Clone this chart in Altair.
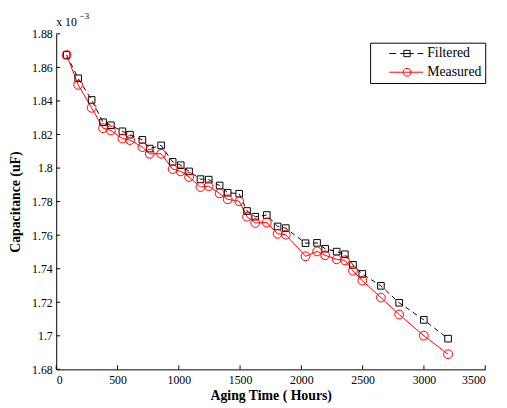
import altair as alt
import pandas as pd

hours = [85, 179, 289, 382, 446, 540, 602, 703, 763, 856, 950, 1016, 1084, 1177, 1244,
         1333, 1399, 1493, 1557, 1624, 1718, 1806, 1873, 2034, 2128, 2194, 2288, 2355,
         2421, 2497, 2649, 2798, 2999, 3197]
measured = [1.8674, 1.8496, 1.8359, 1.8238, 1.8224, 1.8176, 1.8167, 1.8125, 1.8085, 1.8085,
            1.7994, 1.7980, 1.7947, 1.7887, 1.7892, 1.7849, 1.7814, 1.7802, 1.7710, 1.7673,
            1.7675, 1.7608, 1.7603, 1.7474, 1.7503, 1.7480, 1.7456, 1.7450, 1.7388, 1.7329,
            1.7228, 1.7127, 1.7001, 1.6890]
filtered = [1.8674, 1.8535, 1.8406, 1.8273, 1.8255, 1.8219, 1.8199, 1.8168, 1.8116, 1.8135,
            1.8037, 1.8017, 1.7980, 1.7934, 1.7931, 1.7896, 1.7853, 1.7847, 1.7744, 1.7710,
            1.7720, 1.7652, 1.7642, 1.7552, 1.7554, 1.7519, 1.7502, 1.7486, 1.7423, 1.7369,
            1.7298, 1.7197, 1.7095, 1.6983]
series = ["Filtered", "Measured"]
x_ticks = [0, 500, 1000, 1500, 2000, 2500, 3000, 3500]
y_ticks = [1.68, 1.70, 1.72, 1.74, 1.76, 1.78, 1.80, 1.82, 1.84, 1.86, 1.88]

W, H = 436, 341
FONT = "Liberation Serif"

df_f = pd.DataFrame({"hours": hours, "cap": filtered})
df_m = pd.DataFrame({"hours": hours, "cap": measured})

xs = alt.Scale(domain=[0, 3500], nice=False, zero=False)
ys = alt.Scale(domain=[1.68, 1.88], nice=False, zero=False)

x_axis = alt.Axis(
    values=x_ticks, format="d", labelOverlap=False, title="Aging Time ( Hours)",
    tickSize=0, labelPadding=5,
    labelFont=FONT, labelFontSize=12, labelColor="black",
    titleFont=FONT, titleFontSize=14, titleFontWeight="bold", titleColor="black",
    titlePadding=4, domainColor="black", grid=False)
y_axis = alt.Axis(
    values=y_ticks, format=".3~g", labelOverlap=False, title="Capacitance (uF)",
    tickSize=0, labelPadding=4,
    labelFont=FONT, labelFontSize=12, labelColor="black",
    titleFont=FONT, titleFontSize=14, titleFontWeight="bold", titleColor="black",
    titlePadding=9, domainColor="black", grid=False)

def X(f):
    return alt.X(f, type="quantitative", scale=xs, axis=x_axis)

def Y(f):
    return alt.Y(f, type="quantitative", scale=ys, axis=y_axis)

line_f = alt.Chart(df_f).mark_line(color="black", strokeWidth=1, strokeDash=[5, 4]).encode(
    x=X("hours"), y=Y("cap"))
pts_f = alt.Chart(df_f).mark_point(shape="square", filled=False, color="black",
                                   size=45, strokeWidth=1, opacity=1).encode(
    x=X("hours"), y=Y("cap"))
line_m = alt.Chart(df_m).mark_line(color="red", strokeWidth=1).encode(
    x=X("hours"), y=Y("cap"))
pts_m = alt.Chart(df_m).mark_point(shape="circle", filled=False, color="red",
                                   size=80, strokeWidth=1, opacity=1).encode(
    x=X("hours"), y=Y("cap"))

# inward tick marks placed through the scales
xt = alt.Chart(pd.DataFrame({"t": x_ticks})).mark_rule(color="black", strokeWidth=1).encode(
    x=X("t"), y=alt.value(H), y2=alt.value(H - 4))
yt = alt.Chart(pd.DataFrame({"t": y_ticks})).mark_rule(color="black", strokeWidth=1).encode(
    y=Y("t"), x=alt.value(0), x2=alt.value(4))

# legend symbols: line + marker drawn as custom paths (unit = 15 px)
path_f = ("M-1.2,0H-0.75M-0.453,0H0.453M0.72,0H1.1"
          "M-0.213,-0.213H0.213V0.213H-0.213Z")
r, k = 0.2667, 0.1473
path_m = ("M-1.2,0H1.1M{r},0C{r},{k} {k},{r} 0,{r}C-{k},{r} -{r},{k} -{r},0"
          "C-{r},-{k} -{k},-{r} 0,-{r}C{k},-{r} {r},-{k} {r},0Z").format(r=r, k=k)

leg = alt.Chart(pd.DataFrame({"series": series})).mark_point(
    filled=False, clip=True, strokeWidth=1, opacity=1).encode(
    x=alt.value(-200), y=alt.value(-200), size=alt.value(900),
    color=alt.Color("series:N", scale=alt.Scale(domain=series, range=["black", "red"]),
                    legend=alt.Legend(title=None)),
    shape=alt.Shape("series:N", scale=alt.Scale(domain=series, range=[path_f, path_m]),
                    legend=alt.Legend(title=None)),
)

t1 = alt.Chart(pd.DataFrame({"a": [0]})).mark_text(
    text="x 10", font=FONT, fontSize=12, align="left", baseline="middle", color="black").encode(
    x=alt.value(0), y=alt.value(-12))
t2 = alt.Chart(pd.DataFrame({"a": [0]})).mark_text(
    text="\u22123", font=FONT, fontSize=9, align="left", baseline="middle", color="black").encode(
    x=alt.value(24), y=alt.value(-18))

chart = alt.layer(line_f, line_m, pts_f, pts_m, xt, yt, leg, t1, t2).resolve_scale(
    shape="independent", color="independent").properties(
    width=W, height=H, autosize="none",
    padding={"left": 49, "top": 23, "right": 14, "bottom": 36},
).configure_view(stroke=None).configure_axis(labelOverlap=False).configure_legend(
    orient="none", legendX=319, legendY=9, direction="vertical",
    labelFont=FONT, labelFontSize=14, labelColor="black",
    symbolSize=900, clipHeight=16, rowPadding=3, padding=3,
    symbolOffset=19, labelOffset=5, symbolStrokeWidth=1,
    strokeColor="black", fillColor="white", cornerRadius=0,
)

chart.save("out.html", embed_options={"renderer": "svg", "actions": False})
